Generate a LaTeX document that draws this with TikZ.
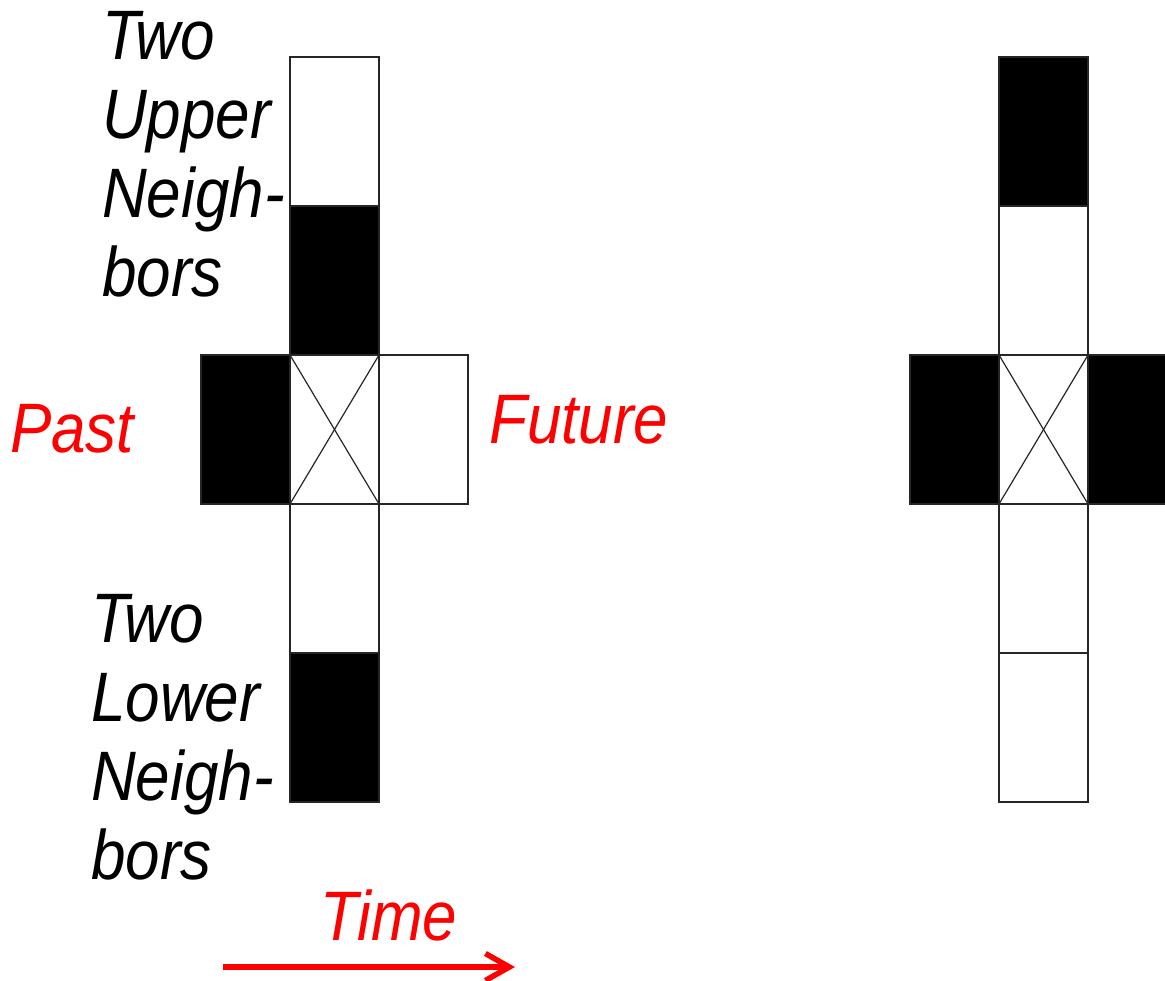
\documentclass[tikz,border=0pt]{standalone}
\usepackage{fontspec}
\usepackage{graphicx}
\setmainfont{Liberation Sans}
\usetikzlibrary{arrows.meta}
\newcommand\hsq[1]{\scalebox{0.885}[1]{#1}}
\begin{document}
\begin{tikzpicture}[x=1pt,y=-1pt,
  cell/.style={draw=black!85, line width=1.2pt, minimum width=89pt, minimum height=149pt, inner sep=0pt, outer sep=0pt},
  wcell/.style={cell, fill=white},
  bcell/.style={cell, fill=black},
  cross/.style={draw=black!85, line width=1.2pt},
  lbl/.style={inner sep=0pt, anchor=base west, font=\fontsize{70pt}{79pt}\selectfont\itshape},
  redlbl/.style={lbl, text=red},
  timearrow/.style={red, line width=5.5pt, -{Straight Barb[length=24pt,width=27pt]}}]
\useasboundingbox (0,0) rectangle (1165,981);
\clip (0,0) rectangle (1165,981);
% left configuration
\node[wcell] (lu2) at (334.5,131.5) {};
\node[bcell] (lu1) at (334.5,280.5) {};
\node[wcell] (lc)  at (334.5,429.5) {};
\node[bcell] (lp)  at (245.5,429.5) {};
\node[wcell] (lf)  at (423.5,429.5) {};
\node[wcell] (ld1) at (334.5,578.5) {};
\node[bcell] (ld2) at (334.5,727.5) {};
\draw[cross] (lc.north west) -- (lc.south east);
\draw[cross] (lc.north east) -- (lc.south west);
% right configuration
\node[bcell] (ru2) at (1043.5,131.5) {};
\node[wcell] (ru1) at (1043.5,280.5) {};
\node[wcell] (rc)  at (1043.5,429.5) {};
\node[bcell] (rp)  at (954.5,429.5) {};
\node[bcell] (rf)  at (1132.5,429.5) {};
\node[wcell] (rd1) at (1043.5,578.5) {};
\node[wcell] (rd2) at (1043.5,727.5) {};
\draw[cross] (rc.north west) -- (rc.south east);
\draw[cross] (rc.north east) -- (rc.south west);
% labels
\node[lbl] (upper) at (102,60) {\hsq{\begin{tabular}[t]{@{}l@{}}Two\\Upper\\Neigh-\\bors\end{tabular}}};
\node[lbl] (lower) at (91,642) {\hsq{\begin{tabular}[t]{@{}l@{}}Two\\Lower\\Neigh-\\bors\end{tabular}}};
\node[redlbl] (past) at (10,453) {\hsq{Past}};
\node[redlbl] (future) at (489,444) {\hsq{Future}};
\node[redlbl] (time) at (320,940) {\hsq{Time}};
% time arrow
\coordinate (ts) at (223,967);
\coordinate (te) at (515,967);
\draw[timearrow] (ts) -- (te);
\end{tikzpicture}
\end{document}
